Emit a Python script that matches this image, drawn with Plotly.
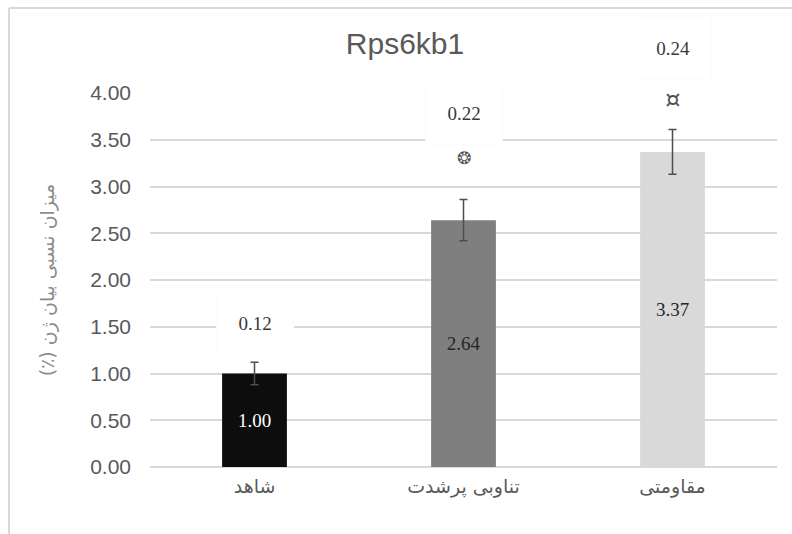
import plotly.graph_objects as go

# Relative expression of Rps6kb1 per group
groups = ["شاهد", "تناوبی پرشدت", "مقاومتی"]
means = [1.00, 2.64, 3.37]
errors = [0.12, 0.22, 0.24]
bar_colors = ["#0d0d0d", "#7f7f7f", "#d9d9d9"]
inner_text_colors = ["#ffffff", "#262626", "#262626"]
sig_marks = ["", "❂", "¤"]
sig_y = [None, 3.30, 3.93]
err_label_y = [1.54, 3.79, 4.48]

y_ticks = [0, 0.5, 1, 1.5, 2, 2.5, 3, 3.5, 4]
Y_MAX = 4

fig = go.Figure()
fig.add_trace(go.Bar(
    x=groups,
    y=means,
    marker=dict(color=bar_colors, line=dict(width=0)),
    error_y=dict(type="data", array=errors, visible=True,
                 color="#4d4d4d", thickness=1.5, width=4),
    text=[f"{v:.2f}" for v in means],
    textposition="inside",
    insidetextanchor="middle",
    textangle=0,
    textfont=dict(family="Liberation Serif", size=19, color=inner_text_colors),
    cliponaxis=False,
    hoverinfo="skip",
))

# error magnitude labels above the bars, each in a white text box
# (paper y so they may sit above the axis top)
for g, e, yy in zip(groups, errors, err_label_y):
    fig.add_annotation(x=g, y=yy / Y_MAX, xref="x", yref="paper", text=f"{e:.2f}",
                       showarrow=False, bgcolor="#ffffff", yanchor="middle",
                       width=74, height=60, valign="middle",
                       bordercolor="#fbfbfb", borderwidth=1,
                       font=dict(family="Liberation Serif", size=19, color="#3a3a3a"))

# significance symbols
for g, s, yy in zip(groups, sig_marks, sig_y):
    if s:
        fig.add_annotation(x=g, y=yy / Y_MAX, xref="x", yref="paper", text=s,
                           showarrow=False, yanchor="middle",
                           bgcolor="#ffffff" if s == "¤" else "rgba(0,0,0,0)",
                           width=40 if s == "¤" else None,
                           font=dict(family="DejaVu Sans", size=17 if s == "❂" else 24,
                                     color="#505050"))

W, H = 792, 534
ml, mr, mt, mb = 150, 15, 93, 67
pw, ph = W - ml - mr, H - mt - mb

# outer chart frame (top and left edges)
fig.add_shape(type="line", xref="paper", yref="paper",
              x0=(9 - ml) / pw, x1=(W - ml) / pw,
              y0=(H - mb - 8) / ph, y1=(H - mb - 8) / ph,
              line=dict(color="#d9d9d9", width=2))
fig.add_shape(type="line", xref="paper", yref="paper",
              x0=(9 - ml) / pw, x1=(9 - ml) / pw,
              y0=(H - mb - 8) / ph, y1=-mb / ph,
              line=dict(color="#d9d9d9", width=2))

fig.update_layout(
    width=W, height=H,
    margin=dict(l=ml, r=mr, t=mt, b=mb),
    paper_bgcolor="#ffffff",
    plot_bgcolor="#ffffff",
    showlegend=False,
    bargap=0.69,
    title=dict(text="Rps6kb1", x=(405 - ml) / pw, xref="paper", xanchor="center",
               y=1 - 43 / H, yanchor="middle",
               font=dict(family="Liberation Sans", size=30, color="#595959")),
    xaxis=dict(showgrid=False, showline=False, ticks="", ticklabelstandoff=6,
               tickfont=dict(family="DejaVu Serif, DejaVu Sans", size=19, color="#595959")),
    yaxis=dict(range=[0, Y_MAX], tickvals=y_ticks, tickformat=".2f",
               showgrid=True, gridcolor="#d9d9d9", gridwidth=1.5,
               zeroline=True, zerolinecolor="#d9d9d9", zerolinewidth=1.5,
               showline=False, ticks="", ticklabelstandoff=18,
               tickfont=dict(family="Liberation Sans", size=21, color="#595959"),
               title=dict(text="\u200fمیزان نسبی بیان ژن (٪)\u200f", standoff=30,
                          font=dict(family="DejaVu Sans", size=19, color="#8c8c8c"))),
)

fig.write_html("out.html")
